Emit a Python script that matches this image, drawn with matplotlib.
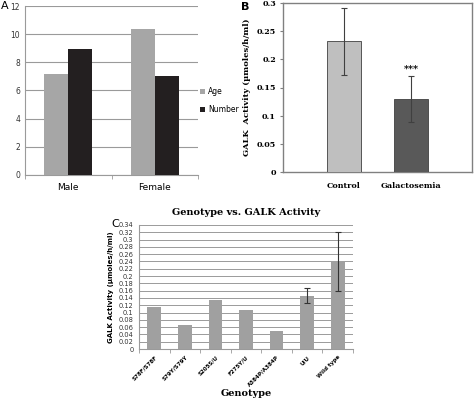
import numpy as np
import matplotlib
matplotlib.use("Agg")
import matplotlib.pyplot as plt

# Panel A data
sexes = ["Male", "Female"]
age = [7.2, 10.4]
number = [8.95, 7.0]

# Panel B data
groups = ["Control", "Galactosemia"]
galk_mean = [0.232, 0.130]
galk_err = [0.060, 0.041]

# Panel C data
genotypes = ["S78F/S78F", "S79Y/S79Y", "S205S/U", "F275Y/U", "A384P/A384P", "U/U", "Wild type"]
geno_vals = [0.114, 0.065, 0.134, 0.108, 0.050, 0.146, 0.240]
geno_err = [0, 0, 0, 0, 0, 0.021, 0.080]

W, H = 474, 398
fig = plt.figure(figsize=(W / 100, H / 100), dpi=100)


def px_axes(x0, y0, x1, y1):
    # pixel box (top-left origin) -> figure axes
    return fig.add_axes([x0 / W, 1 - y1 / H, (x1 - x0) / W, (y1 - y0) / H])


# ---------- Panel A ----------
axA = px_axes(25, 6, 198, 175)
x = np.arange(len(sexes))
bw = 0.28
axA.bar(x - bw / 2, age, bw, color="#a6a6a6", label="Age", zorder=3)
axA.bar(x + bw / 2, number, bw, color="#231f20", label="Number", zorder=3)
axA.set_xlim(-0.5, 1.5)
axA.set_ylim(0, 12)
axA.set_yticks(range(0, 13, 2))
axA.yaxis.grid(True, color="#9a9a9a", lw=0.8, zorder=0)
axA.set_xticks(x)
axA.set_xticklabels(sexes, fontsize=6.5)
axA.set_xticks([-0.5, 0.5, 1.5], minor=True)
axA.tick_params(axis="x", which="major", length=0, pad=6)
axA.tick_params(axis="x", which="minor", length=3, color="#9a9a9a")
axA.tick_params(axis="y", length=0, labelsize=5.5, colors="#333333")
for s in ["top", "right"]:
    axA.spines[s].set_visible(False)
for s in ["left", "bottom"]:
    axA.spines[s].set_color("#9a9a9a")
axA.legend(loc="center left", bbox_to_anchor=(1.0, 0.44), frameon=False,
           fontsize=5.5, handlelength=0.6, handleheight=0.6, handletextpad=0.4,
           labelspacing=1.1, borderaxespad=0.2, borderpad=0.1)
fig.text(1 / W, 1 - 6 / H, "A", fontsize=8, va="center", ha="left")

# ---------- Panel B ----------
axB = px_axes(283, 3, 472, 172)
xb = np.array([1, 2])
axB.bar(xb, galk_mean, 0.5, color=["#bfbfbf", "#595959"], edgecolor="#404040",
        lw=0.6, yerr=galk_err, ecolor="#404040", capsize=2.5,
        error_kw=dict(elinewidth=0.8, capthick=0.8), zorder=3)
axB.text(2, galk_mean[1] + galk_err[1] + 0.004, "***", ha="center", va="bottom",
         fontsize=7, fontweight="bold", family="DejaVu Serif")
axB.set_xlim(0.09, 2.91)
axB.set_ylim(0, 0.3)
axB.set_yticks([0, 0.05, 0.1, 0.15, 0.2, 0.25, 0.3])
axB.set_yticklabels(["0", "0.05", "0.1", "0.15", "0.2", "0.25", "0.3"])
axB.set_xticks(xb)
axB.set_xticklabels(groups)
for lab in axB.get_xticklabels() + axB.get_yticklabels():
    lab.set_fontfamily("DejaVu Serif")
    lab.set_fontweight("bold")
    lab.set_fontsize(5.8)
axB.tick_params(axis="x", length=0, pad=7)
axB.tick_params(axis="y", length=2, color="#808080", pad=3)
for s in axB.spines.values():
    s.set_color("#808080")
    s.set_linewidth(1.0)
axB.set_ylabel("GALK  Activity (µmoles/h/ml)", fontsize=6, fontweight="bold",
               family="DejaVu Serif", labelpad=4)
fig.text(241 / W, 1 - 7 / H, "B", fontsize=8, fontweight="bold", va="center")

# ---------- Panel C ----------
axC = px_axes(139, 225, 353, 349)
xc = np.arange(len(genotypes))
cerr = [e if e > 0 else np.nan for e in geno_err]
axC.bar(xc, geno_vals, 0.45, color="#a0a0a0", zorder=3)
axC.errorbar(xc, geno_vals, yerr=cerr, fmt="none", ecolor="#333333",
             elinewidth=0.8, capsize=2.5, capthick=0.8, zorder=4)
axC.set_xlim(-0.5, len(genotypes) - 0.5)
axC.set_ylim(0, 0.34)
yt = np.arange(0, 0.341, 0.02)
axC.set_yticks(yt)
axC.set_yticklabels(["0"] + [f"{v:.2f}".rstrip("0") for v in yt[1:]])
axC.yaxis.grid(True, color="#9a9a9a", lw=0.7, zorder=0)
axC.tick_params(axis="y", length=0, labelsize=4.8, colors="#333333", pad=4)
axC.set_xticks(xc)
axC.set_xticklabels(genotypes, rotation=45, ha="right", rotation_mode="anchor",
                    fontsize=4, fontweight="bold")
axC.set_xticks(np.arange(-0.5, len(genotypes)), minor=True)
axC.tick_params(axis="x", which="major", length=0, pad=4)
axC.tick_params(axis="x", which="minor", length=3, color="#9a9a9a")
for s in ["top", "right"]:
    axC.spines[s].set_visible(False)
for s in ["left", "bottom"]:
    axC.spines[s].set_color("#9a9a9a")
axC.set_ylabel("GALK Activity (µmoles/h/ml)", fontsize=5, fontweight="bold",
               labelpad=3)
axC.set_title("Genotype vs. GALK Activity", fontsize=7, fontweight="bold",
              family="DejaVu Serif", pad=7)
axC.set_xlabel("Genotype", fontsize=7, fontweight="bold", family="DejaVu Serif",
               labelpad=1)
fig.text(111 / W, 1 - 224 / H, "C", fontsize=8, va="center")

fig.savefig("out.png", dpi=100)
